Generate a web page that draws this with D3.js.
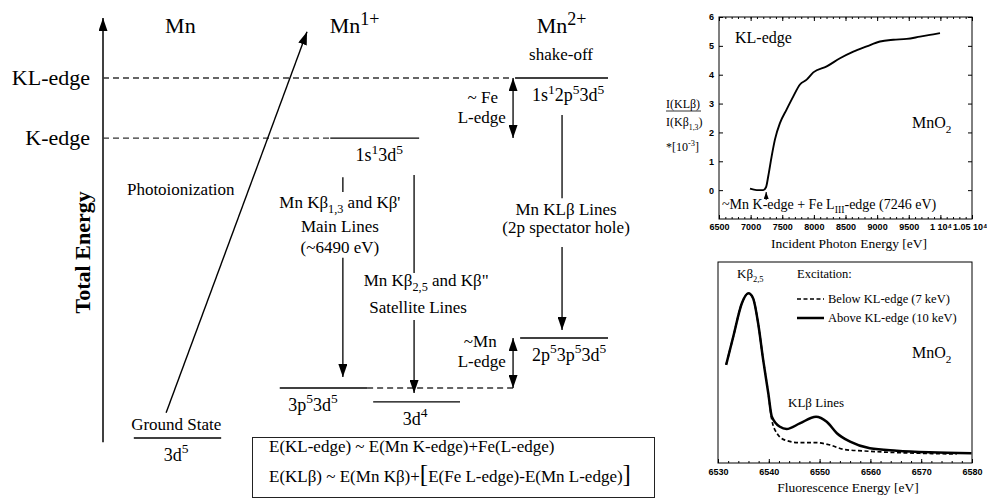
<!DOCTYPE html>
<html>
<head>
<meta charset="utf-8">
<script src="https://cdn.jsdelivr.net/npm/d3@7"></script>
<style>
  body { margin: 0; background: #fff; }
  svg { display: block; }
  text { font-family: "Liberation Serif", "Times New Roman", serif; fill: #000; white-space: pre; }
</style>
</head>
<body>
<svg width="987" height="502"></svg>
<script>
// ---- level diagram: schematic energies (arb. units), horizontal position 0-100 across diagram ----
var ionNames = ["Mn", "Mn^{1+}", "Mn^{2+}"];
var ionX = [12.3, 44.9, 85.9];

var edgeNames = ["KL-edge", "K-edge"];
var edgeE = [8.57, 7.14];
var edgeDashEnd = [81.2, 45];

var levelCfg = ["3d^{5}", "1s^{1}3d^{5}", "1s^{1}2p^{5}3d^{5}", "3p^{5}3d^{5}", "3d^{4}", "2p^{5}3p^{5}3d^{5}"];
var levelE = [0, 7.14, 8.57, 1.19, 0.86, 2.38];
var levelX0 = [6.1, 45, 81.6, 35, 53.5, 82.6];
var levelX1 = [23.4, 62.6, 100, 52.3, 70.7, 100];
var levelLabelX = [14.5, 54.7, 92.1, 41.6, 61.8, 92.3];

// transitions: vertical stems (no head) and decay arrows, [x, eFrom, eTo]
var stems = [[47.5, 6.21, 5.86], [61.6, 6.26, 3.93], [90.9, 7.69, 5.71]];
var decays = [[47.5, 4.29, 1.45], [61.6, 2.81, 1.07], [90.9, 4.55, 2.57]];
var gaps = [[81.2, 8.57, 7.14], [81.2, 2.38, 1.19]];
var ionization = [12.5, 0.6, 40.4, 9.67];

var annText = ["Photoionization", "Ground State", "shake-off", "~ Fe", "L-edge",
  "Mn Kβ_{1,3} and Kβ'", "Main Lines", "(~6490 eV)", 'Mn Kβ_{2,5} and Kβ"', "Satellite Lines",
  "Mn KLβ Lines", "(2p spectator hole)", "~Mn", "L-edge"];
var annX = [15.4, 14.5, 90.7, 75.2, 75.0, 46.9, 46.9, 46.9, 64.0, 62.4, 91.7, 91.7, 74.7, 75.0];
var annE = [5.79, 0.19, 9.0, 7.98, 7.5, 5.48, 4.9, 4.40, 3.62, 2.98, 5.31, 4.88, 2.17, 1.69];

// ---- KL-edge ratio vs incident energy ----
var incE = [6990, 7096, 7200, 7243, 7280, 7333, 7385, 7465, 7570, 7675, 7780, 7886, 7991, 8203, 8413, 8624, 8835, 9046, 9256, 9467, 9678, 9889, 9994];
var klRatio = [0.05, 0.0, 0.0, 0.1, 0.5, 1.18, 1.76, 2.33, 2.8, 3.25, 3.66, 3.83, 4.08, 4.29, 4.57, 4.80, 4.98, 5.15, 5.21, 5.24, 5.32, 5.40, 5.44];
var incTicks = [6500, 7000, 7500, 8000, 8500, 9000, 9500, 10000, 10500];
var incTickLabels = ["6500", "7000", "7500", "8000", "8500", "9000", "9500", "1 10⁴", "1.05 10⁴"];
var ratioTicks = [0, 1, 2, 3, 4, 5, 6];

// ---- Kbeta emission spectra ----
var aboveE = [6531.6, 6533.0, 6534.7, 6536.0, 6536.9, 6537.9, 6538.9, 6539.9, 6540.6, 6542.2, 6543.5, 6546.1, 6549.3, 6551.4, 6553.4, 6556.0, 6559.9, 6565.2, 6571.7, 6579.9];
var aboveI = [48.8, 62.8, 79.5, 84.4, 82, 69.5, 51.2, 34.7, 23, 18, 16.9, 19.7, 23, 20.5, 14.8, 10.6, 7.3, 6.1, 5.3, 4.8];
var belowE = [6531.6, 6533.0, 6534.7, 6536.0, 6536.9, 6537.9, 6538.9, 6539.9, 6540.6, 6541.6, 6543.2, 6546.1, 6549.4, 6552.0, 6554.7, 6558.6, 6563.9, 6570.4, 6577.0];
var belowI = [48.8, 62.8, 79.5, 84.4, 82, 69.5, 51.2, 34.7, 21.4, 14.8, 11.4, 10.1, 10.1, 9, 6.8, 6, 5.3, 4.8, 4.5];
var fluTicks = [6530, 6540, 6550, 6560, 6570, 6580];

var svg = d3.select("svg");

function parts(str) {
  var out = [], re = /\^\{([^}]*)\}|_\{([^}]*)\}|[^^_]+/g, m;
  while ((m = re.exec(str))) {
    if (m[1] != null) out.push([m[1], "sup"]);
    else if (m[2] != null) out.push([m[2], "sub"]);
    else out.push([m[0], ""]);
  }
  return out;
}

function rich(g, x, y, str, size, anchor, scale, rise) {
  var t = g.append("text").attr("x", x).attr("y", y)
    .attr("font-size", size).attr("text-anchor", anchor || "middle");
  var shift = 0;
  parts(str).forEach(function(p) {
    var want = p[1] == "sup" ? -size * (rise || 0.42) : p[1] == "sub" ? size * 0.3 : 0;
    var ts = t.append("tspan").attr("dy", want - shift).text(p[0]);
    if (p[1]) ts.attr("font-size", size * (scale || 0.72));
    shift = want;
  });
  return t;
}

var defs = svg.append("defs");
function marker(id, w, h) {
  defs.append("marker").attr("id", id)
    .attr("viewBox", "0 -5 10 10").attr("refX", 10).attr("refY", 0)
    .attr("markerWidth", w).attr("markerHeight", h)
    .attr("markerUnits", "userSpaceOnUse").attr("preserveAspectRatio", "none")
    .attr("orient", "auto-start-reverse")
    .append("path").attr("d", "M0,-5L10,0L0,5Z").attr("fill", "#000");
}
marker("ah", 13, 9);
marker("ahs", 7, 5);

// ================= level diagram =================
var ex = d3.scaleLinear().domain([0, 100]).range([103, 608]);
var ey = d3.scaleLinear().domain([0, 10]).range([438, 18]);
var dg = svg.append("g");

// energy axis
dg.append("line").attr("x1", ex(0)).attr("x2", ex(0))
  .attr("y1", ey(-0.1)).attr("y2", ey(10))
  .attr("stroke", "#000").attr("stroke-width", 1.5).attr("marker-end", "url(#ah)");
dg.append("text").attr("transform", "translate(90," + ey(4.42) + ") rotate(-90)")
  .attr("text-anchor", "middle").attr("font-size", 22).attr("font-weight", "bold")
  .text("Total Energy");

ionNames.forEach(function(n, i) {
  rich(dg, ex(ionX[i]), 33, n, 22, "start", 0.82, 0.36);
});

// edges
edgeNames.forEach(function(n, i) {
  dg.append("line").attr("x1", ex(0)).attr("x2", ex(edgeDashEnd[i]))
    .attr("y1", ey(edgeE[i])).attr("y2", ey(edgeE[i]))
    .attr("stroke", "#333").attr("stroke-width", 1.4).attr("stroke-dasharray", "6,4");
  dg.append("text").attr("x", 90).attr("y", ey(edgeE[i]) + 7)
    .attr("text-anchor", "end").attr("font-size", 22).text(n);
});
// dashed extension of 3p5 3d5 level
dg.append("line").attr("x1", ex(levelX1[3])).attr("x2", ex(81.2))
  .attr("y1", ey(levelE[3])).attr("y2", ey(levelE[3]))
  .attr("stroke", "#333").attr("stroke-width", 1.4).attr("stroke-dasharray", "6,4");

// levels
levelCfg.forEach(function(c, i) {
  dg.append("line").attr("x1", ex(levelX0[i])).attr("x2", ex(levelX1[i]))
    .attr("y1", ey(levelE[i])).attr("y2", ey(levelE[i]))
    .attr("stroke", "#000").attr("stroke-width", 1.4);
  rich(dg, ex(levelLabelX[i]), ey(levelE[i]) + 23, c, 18, "middle", 0.75, 0.42);
});

// transitions
dg.append("line").attr("x1", ex(ionization[0])).attr("y1", ey(ionization[1]))
  .attr("x2", ex(ionization[2])).attr("y2", ey(ionization[3]))
  .attr("stroke", "#000").attr("stroke-width", 1.4).attr("marker-end", "url(#ah)");
stems.forEach(function(s) {
  dg.append("line").attr("x1", ex(s[0])).attr("x2", ex(s[0]))
    .attr("y1", ey(s[1])).attr("y2", ey(s[2])).attr("stroke", "#000").attr("stroke-width", 1.3);
});
decays.forEach(function(s) {
  dg.append("line").attr("x1", ex(s[0])).attr("x2", ex(s[0]))
    .attr("y1", ey(s[1])).attr("y2", ey(s[2])).attr("stroke", "#000").attr("stroke-width", 1.3)
    .attr("marker-end", "url(#ah)");
});
gaps.forEach(function(s) {
  dg.append("line").attr("x1", ex(s[0])).attr("x2", ex(s[0]))
    .attr("y1", ey(s[1])).attr("y2", ey(s[2])).attr("stroke", "#000").attr("stroke-width", 1.3)
    .attr("marker-start", "url(#ah)").attr("marker-end", "url(#ah)");
});

annText.forEach(function(t, i) {
  rich(dg, ex(annX[i]), ey(annE[i]), t, 17, "middle", 0.72);
});

// formula box
dg.append("rect").attr("x", 252.5).attr("y", 437.5).attr("width", 402).attr("height", 60)
  .attr("fill", "none").attr("stroke", "#222").attr("stroke-width", 1);
dg.append("text").attr("x", 269).attr("y", 452).attr("font-size", 17)
  .text("E(KL-edge) ~ E(Mn K-edge)+Fe(L-edge)");
var f2 = dg.append("text").attr("x", 269).attr("y", 482).attr("font-size", 17);
f2.append("tspan").text("E(KLβ) ~ E(Mn Kβ)+");
f2.append("tspan").attr("font-size", 25).text("[");
f2.append("tspan").text("E(Fe L-edge)-E(Mn L-edge)");
f2.append("tspan").attr("font-size", 25).text("]");

// ================= common axis styling =================
function styleAxis(g) {
  g.select(".domain").remove();
  g.attr("font-family", "'Liberation Sans', Arial, sans-serif").attr("font-size", 9).attr("font-weight", "bold");
  g.selectAll("line").attr("stroke", "#000");
  g.selectAll("text").style("font-family", "'Liberation Sans', Arial, sans-serif");
}

// ================= top right: KL-edge =================
var xT = d3.scaleLinear().domain([6500, 10500]).range([719, 972]);
var yT = d3.scaleLinear().domain([-1, 6]).range([219, 17]);
var tg = svg.append("g");
var minorInc = d3.range(6500, 10501, 100);

tg.append("g").attr("transform", "translate(0,219)")
  .call(d3.axisBottom(xT).tickValues(minorInc).tickSize(-2).tickFormat("")).call(styleAxis);
tg.append("g").attr("transform", "translate(0,17)")
  .call(d3.axisTop(xT).tickValues(minorInc).tickSize(-2).tickFormat("")).call(styleAxis);
var xAxT = tg.append("g").attr("transform", "translate(0,219)")
  .call(d3.axisBottom(xT).tickValues(incTicks).tickFormat(function(d, i) { return incTickLabels[i]; })
    .tickSizeInner(-4).tickSizeOuter(0).tickPadding(5)).call(styleAxis);
// keep last label inside the window
xAxT.selectAll(".tick text").filter(function(d) { return d === 10500; })
  .attr("text-anchor", "end").attr("dx", 15);
tg.append("g").attr("transform", "translate(0,17)")
  .call(d3.axisTop(xT).tickValues(incTicks).tickSize(-4).tickFormat("")).call(styleAxis);
tg.append("g").attr("transform", "translate(719,0)")
  .call(d3.axisLeft(yT).tickValues(ratioTicks).tickFormat(d3.format("d"))
    .tickSizeInner(-4).tickSizeOuter(0).tickPadding(5)).call(styleAxis);
tg.append("g").attr("transform", "translate(972,0)")
  .call(d3.axisRight(yT).tickValues(ratioTicks).tickSize(-4).tickFormat("")).call(styleAxis);
tg.append("rect").attr("x", 719).attr("y", 17).attr("width", 253).attr("height", 202)
  .attr("fill", "none").attr("stroke", "#000").attr("stroke-width", 1);

tg.append("path").datum(incE)
  .attr("d", d3.line().x(function(d) { return xT(d); })
    .y(function(d, i) { return yT(klRatio[i]); }).curve(d3.curveMonotoneX))
  .attr("fill", "none").attr("stroke", "#000").attr("stroke-width", 1.9);

tg.append("text").attr("x", 735).attr("y", 43).attr("font-size", 16).text("KL-edge");
rich(tg, 912, 128, "MnO_{2}", 16, "start", 0.7);
rich(tg, 722, 209, "~Mn K-edge + Fe L_{III}-edge (7246 eV)", 14, "start", 0.7);
tg.append("line").attr("x1", xT(7246)).attr("x2", xT(7246)).attr("y1", 200).attr("y2", 192)
  .attr("stroke", "#000").attr("stroke-width", 1).attr("marker-end", "url(#ahs)");
tg.append("text").attr("x", 849).attr("y", 248).attr("font-size", 13.5)
  .attr("text-anchor", "middle").text("Incident Photon Energy [eV]");

// y label as fraction
rich(tg, 666, 108, "I(KLβ)", 12, "start");
tg.append("line").attr("x1", 666).attr("x2", 701).attr("y1", 111).attr("y2", 111)
  .attr("stroke", "#000").attr("stroke-width", 0.8);
rich(tg, 666, 126, "I(Kβ_{1,3})", 12, "start", 0.65);
rich(tg, 666, 151, "*[10^{-3}]", 12, "start", 0.7);

// ================= bottom right: spectra =================
var xB = d3.scaleLinear().domain([6530, 6580]).range([718, 972]);
var yB = d3.scaleLinear().domain([0, 100]).range([463, 262]);
var bg = svg.append("g");

bg.append("g").attr("transform", "translate(0,463)")
  .call(d3.axisBottom(xB).tickValues(d3.range(6530, 6581, 2)).tickSize(-2).tickFormat("")).call(styleAxis);
bg.append("g").attr("transform", "translate(0,463)")
  .call(d3.axisBottom(xB).tickValues(fluTicks).tickFormat(d3.format("d"))
    .tickSizeInner(-4).tickSizeOuter(0).tickPadding(6)).call(styleAxis);
bg.append("rect").attr("x", 718).attr("y", 262).attr("width", 254).attr("height", 201)
  .attr("fill", "none").attr("stroke", "#000").attr("stroke-width", 1);

var lineB = function(xs, ys) {
  return d3.line().x(function(d) { return xB(d); })
    .y(function(d, i) { return yB(ys[i]); }).curve(d3.curveMonotoneX)(xs);
};
bg.append("path").attr("d", lineB(belowE, belowI))
  .attr("fill", "none").attr("stroke", "#000").attr("stroke-width", 1.7).attr("stroke-dasharray", "4,2.5");
bg.append("path").attr("d", lineB(aboveE, aboveI))
  .attr("fill", "none").attr("stroke", "#000").attr("stroke-width", 2.5);

rich(bg, 737, 278, "Kβ_{2,5}", 13, "start", 0.65);
bg.append("text").attr("x", 797).attr("y", 278).attr("font-size", 12.5).text("Excitation:");
bg.append("line").attr("x1", 797).attr("x2", 824).attr("y1", 299).attr("y2", 299)
  .attr("stroke", "#000").attr("stroke-width", 1.7).attr("stroke-dasharray", "4,2.5");
bg.append("text").attr("x", 828).attr("y", 303).attr("font-size", 12.5).text("Below KL-edge (7 keV)");
bg.append("line").attr("x1", 797).attr("x2", 824).attr("y1", 318).attr("y2", 318)
  .attr("stroke", "#000").attr("stroke-width", 2.5);
bg.append("text").attr("x", 828).attr("y", 322).attr("font-size", 12.5).text("Above KL-edge (10 keV)");
rich(bg, 912, 358, "MnO_{2}", 16, "start", 0.7);
bg.append("text").attr("x", 788).attr("y", 407).attr("font-size", 13).text("KLβ Lines");
bg.append("text").attr("x", 848).attr("y", 492).attr("font-size", 13.5)
  .attr("text-anchor", "middle").text("Fluorescence Energy [eV]");
</script>
</body>
</html>
